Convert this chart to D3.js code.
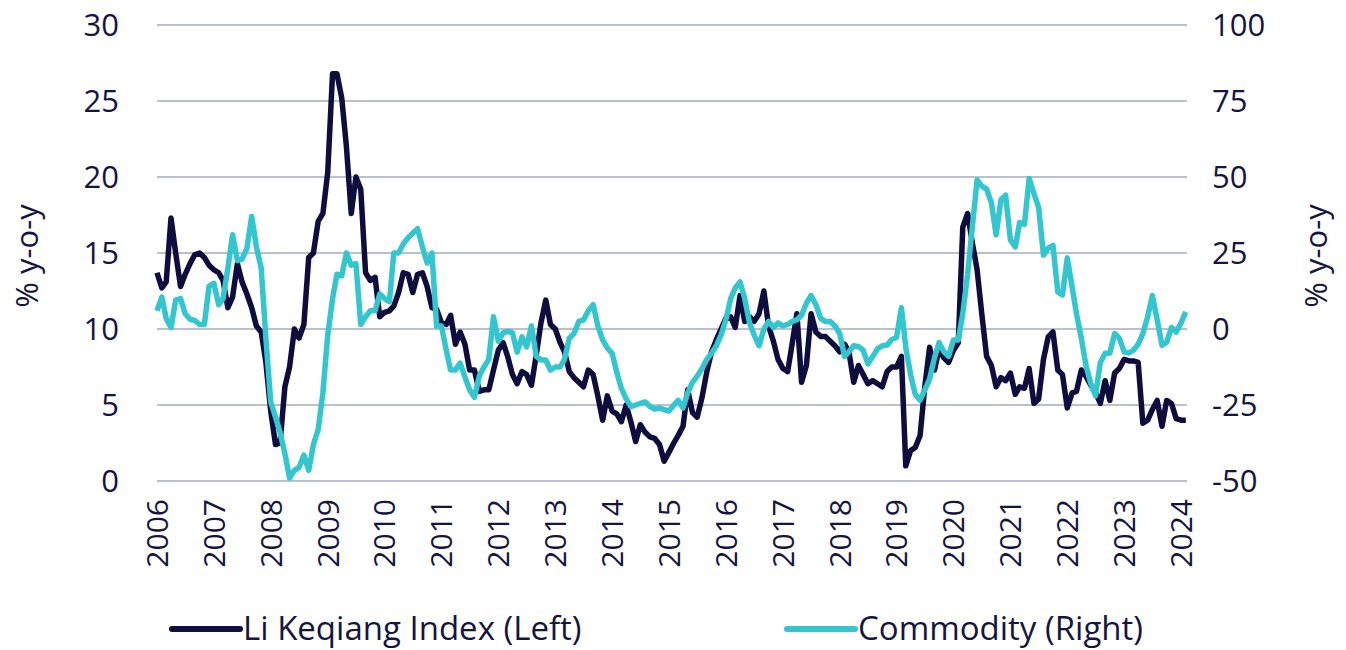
<!DOCTYPE html>
<html>
<head>
<meta charset="utf-8">
<script src="https://cdn.jsdelivr.net/npm/d3@7"></script>
<style>
  body { margin: 0; background: #fff; }
  text { font-family: "Open Sans", sans-serif; fill: #16153f; }
</style>
</head>
<body>
<svg id="chart" width="1346" height="650"></svg>
<script>
// monthly, starting Jan 2006
const startYear = 2006;
const liKeqiang = [
  13.7, 12.7, 13.1, 17.3, 15.0, 12.8, 13.6, 14.3, 14.9, 15.0, 14.7, 14.2,
  13.9, 13.7, 13.2, 11.4, 12.1, 14.3, 13.1, 12.3, 11.4, 10.2, 9.8, 7.8,
  4.6, 2.4, 2.5, 6.2, 7.5, 10.0, 9.4, 10.3, 14.7, 15.0, 17.1, 17.6,
  20.3, 26.8, 26.8, 25.2, 22.0, 17.6, 20.0, 19.2, 13.7, 13.2, 13.4, 10.8,
  11.1, 11.2, 11.5, 12.4, 13.7, 13.6, 12.4, 13.6, 13.7, 12.8, 11.4, 11.3,
  10.4, 10.3, 10.9, 9.0, 9.8, 9.0, 7.3, 7.3, 5.9, 6.0, 6.0, 7.3,
  8.6, 9.1, 8.2, 7.0, 6.4, 7.2, 7.0, 6.3, 8.3, 10.4, 11.9, 10.3,
  10.0, 9.1, 8.5, 7.2, 6.8, 6.5, 6.2, 7.3, 7.0, 5.6, 4.0, 5.6,
  4.6, 4.4, 3.9, 5.0, 3.9, 2.6, 3.7, 3.2, 2.9, 2.8, 2.4, 1.3,
  1.9, 2.5, 3.0, 3.6, 6.0, 4.5, 4.2, 5.5, 7.2, 8.5, 9.3, 10.0,
  10.7, 10.8, 10.1, 12.2, 10.5, 10.8, 10.5, 11.0, 12.5, 10.2, 9.2, 8.0,
  7.4, 7.2, 9.0, 11.0, 6.5, 7.6, 11.0, 9.8, 9.5, 9.5, 9.2, 8.9,
  8.5, 9.0, 8.5, 6.5, 7.6, 7.0, 6.4, 6.6, 6.4, 6.2, 7.2, 7.5,
  7.5, 8.2, 1.0, 2.0, 2.2, 3.0, 6.2, 8.8, 7.3, 8.7, 8.1, 7.8,
  8.6, 9.1, 16.7, 17.6, 15.7, 13.9, 11.0, 8.2, 7.6, 6.2, 6.8, 6.6,
  7.1, 5.7, 6.2, 6.1, 7.4, 5.1, 5.4, 8.0, 9.5, 9.8, 7.3, 7.0,
  4.8, 5.8, 5.9, 7.3, 6.9, 6.3, 5.8, 5.1, 6.6, 5.3, 7.1, 7.4,
  8.0, 7.9, 7.9, 7.8, 3.8, 4.0, 4.7, 5.3, 3.6, 5.3, 5.1, 4.1,
  4.0, 4.0
];
const commodity = [
  6, 10.5, 3.5, 0.5, 9.5, 10, 5, 3.2, 2.8, 1.5, 1.5, 14,
  15, 8, 10, 20, 31, 22.5, 23, 26.5, 37, 27, 20, -3,
  -24, -29, -34, -41, -49, -46.5, -45.5, -41.5, -46.5, -38, -33, -21,
  -2, 10, 18, 17.5, 25, 21, 21.5, 1.5, 4, 6, 6, 11.5,
  10, 9, 25, 25, 28, 30, 31.5, 33, 27, 21.7, 25, 1,
  1, -7, -13.5, -13.5, -11.2, -15.8, -20, -22.5, -15.5, -12.5, -10, 4,
  -4, -1.3, -0.8, -1.3, -7.6, -2.6, -5.9, 1, -9, -10.2, -10.2, -13.5,
  -12.5, -12.5, -10, -3, -1.5, 2.5, 3, 6, 8, 1, -3.6, -6.3,
  -8, -14.5, -19.5, -23, -25.5, -25, -24.5, -24, -25.5, -26.3, -26, -26.5,
  -27, -25, -23.5, -26, -21, -17.5, -15.5, -13, -10, -8, -5.5, -2,
  3, 10, 13.5, 15.5, 10, 2, -2, -5.5, 0, 2.5, 0.5, 2,
  1, 1.5, 2.5, 3, 4.5, 8.5, 11, 8, 3.5, 2.5, 2.5, 1,
  -1.5, -9, -7.5, -5.5, -5.8, -7, -11.5, -9, -6.5, -5.5, -5.3, -3.5,
  -2.7, 7, -6, -15, -21.5, -23.4, -20, -16.5, -9.5, -4.5, -7.5, -9,
  -3.6, -3.6, 5, 18, 33.5, 49, 47, 46, 41.5, 31, 42.5, 44,
  29.3, 27, 35, 34.5, 49.5, 44.5, 40, 24.3, 26.6, 27.5, 12.2, 11.2,
  23.4, 13.8, 5, -3, -12, -18, -22, -11, -8, -7.9, -1.5, -3,
  -7.5, -7.9, -7, -5, -1.5, 4, 11, 3, -5.3, -4.3, 0.5, -1,
  2, 5.6
];
const years = d3.range(2006, 2025);
const leftTicks = [0, 5, 10, 15, 20, 25, 30];
const rightTicks = [-50, -25, 0, 25, 50, 75, 100];
const seriesNames = ["Li Keqiang Index (Left)", "Commodity (Right)"];

const navy = "#0e0d3d", teal = "#33c6cf", grid = "#b9c1cd";
const svg = d3.select("#chart");

const x = d3.scaleTime()
  .domain([new Date(2006, 0, 1), new Date(2024, 0, 1)])
  .range([157, 1181]);
const yL = d3.scaleLinear().domain([0, 30]).range([481, 25]);
const yR = d3.scaleLinear().domain([-50, 100]).range([481, 25]);

const dateOf = i => new Date(startYear, i, 1);

// gridlines
svg.append("g").selectAll("line")
  .data(leftTicks)
  .enter().append("line")
  .attr("x1", 157).attr("x2", 1187)
  .attr("y1", d => yL(d)).attr("y2", d => yL(d))
  .attr("stroke", grid).attr("stroke-width", 2);

// left tick labels
svg.append("g").selectAll("text")
  .data(leftTicks)
  .enter().append("text")
  .attr("x", 119).attr("y", d => yL(d))
  .attr("dy", "0.35em").attr("text-anchor", "end")
  .style("font-size", "31px")
  .text(d => String(d));

// right tick labels
svg.append("g").selectAll("text")
  .data(rightTicks)
  .enter().append("text")
  .attr("x", 1212).attr("y", d => yR(d))
  .attr("dy", "0.35em").attr("text-anchor", "start")
  .style("font-size", "31px")
  .text(d => String(d));

// x labels
svg.append("g").selectAll("text")
  .data(years)
  .enter().append("text")
  .attr("transform", d => `translate(${x(new Date(d, 0, 1))},499) rotate(-90)`)
  .attr("text-anchor", "end")
  .attr("dy", "0.36em")
  .style("font-size", "30px")
  .text(d => d);

// axis titles
svg.append("text")
  .attr("transform", "translate(27,256) rotate(-90)")
  .attr("text-anchor", "middle").attr("dy", "0.35em")
  .style("font-size", "31px").text("% y-o-y");
svg.append("text")
  .attr("transform", "translate(1316,256) rotate(-90)")
  .attr("text-anchor", "middle").attr("dy", "0.35em")
  .style("font-size", "31px").text("% y-o-y");

// lines
const lineL = d3.line().x((d, i) => x(dateOf(i))).y(d => yL(d));
const lineR = d3.line().x((d, i) => x(dateOf(i))).y(d => yR(d));

svg.append("path")
  .attr("d", lineL(liKeqiang))
  .attr("fill", "none").attr("stroke", navy)
  .attr("stroke-width", 5.5).attr("stroke-linejoin", "round");

svg.append("path")
  .attr("d", lineR(commodity))
  .attr("fill", "none").attr("stroke", teal)
  .attr("stroke-width", 5.5).attr("stroke-linejoin", "round");

// legend
const legend = svg.append("g").selectAll("g")
  .data([{ name: seriesNames[0], color: navy, x: 172 }, { name: seriesNames[1], color: teal, x: 787 }])
  .enter().append("g")
  .attr("transform", d => `translate(${d.x},629)`);
legend.append("line")
  .attr("x1", 0).attr("x2", 68)
  .attr("stroke", d => d.color).attr("stroke-width", 6).attr("stroke-linecap", "round");
legend.append("text")
  .attr("x", 71).attr("dy", "0.33em")
  .style("font-size", "33px")
  .text(d => d.name);
</script>
</body>
</html>
